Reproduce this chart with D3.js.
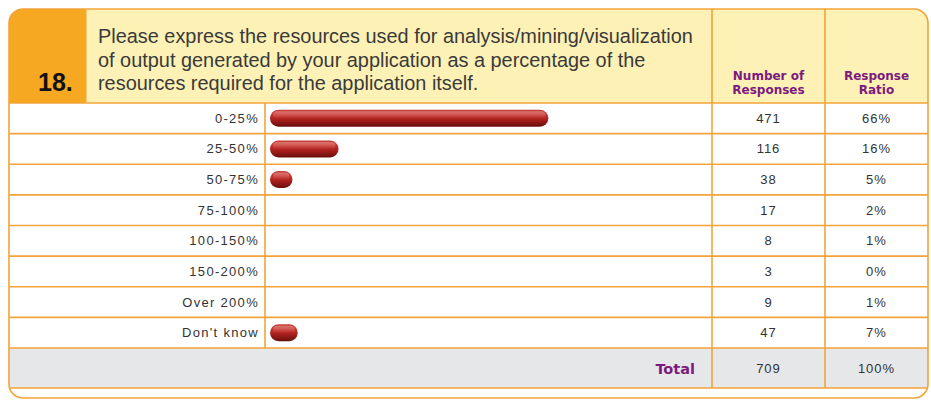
<!DOCTYPE html>
<html>
<head>
<meta charset="utf-8">
<script src="https://cdn.jsdelivr.net/npm/d3@7"></script>
<style>
  html, body { margin: 0; padding: 0; background: #ffffff; }
  svg { display: block; }
</style>
</head>
<body>
<svg id="chart" width="931" height="401"></svg>
<script>
// Survey question 18: resources spent on analysis of output, as a share of the application's own resources
const questionNumber = "18.";
const questionLines = [
  "Please express the resources used for analysis/mining/visualization",
  "of output generated by your application as a percentage of the",
  "resources required for the application itself."
];
const categories = ["0-25%", "25-50%", "50-75%", "75-100%", "100-150%", "150-200%", "Over 200%", "Don't know"];
const counts = [471, 116, 38, 17, 8, 3, 9, 47];
const ratios = [66, 16, 5, 2, 1, 0, 1, 7];
const totalCount = 709;
const totalRatio = 100;
const countHeader = ["Number of", "Responses"];
const ratioHeader = ["Response", "Ratio"];

const svg = d3.select("#chart");
const orange = "#f2a43a";
const purple = "#7d1a7e";

// frame geometry
const L = 9, R = 928, T = 9, B = 398, rad = 14;
const headerBottom = 103;
const colLabelEnd = 265, colCount = 712, colRatio = 825;
const totalTop = 348, totalBottom = 388;

const defs = svg.append("defs");
defs.append("clipPath").attr("id", "frameClip")
  .append("rect").attr("x", L).attr("y", T).attr("width", R - L).attr("height", B - T).attr("rx", rad);

const grad = defs.append("linearGradient").attr("id", "barGrad")
  .attr("x1", 0).attr("y1", 0).attr("x2", 0).attr("y2", 1);
grad.append("stop").attr("offset", "0%").attr("stop-color", "#c4403a");
grad.append("stop").attr("offset", "25%").attr("stop-color", "#cc3530");
grad.append("stop").attr("offset", "60%").attr("stop-color", "#a81f1c");
grad.append("stop").attr("offset", "100%").attr("stop-color", "#650e0d");

const hl = defs.append("linearGradient").attr("id", "barShine")
  .attr("x1", 0).attr("y1", 0).attr("x2", 0).attr("y2", 1);
hl.append("stop").attr("offset", "0%").attr("stop-color", "#ffffff").attr("stop-opacity", 0.3);
hl.append("stop").attr("offset", "100%").attr("stop-color", "#ffffff").attr("stop-opacity", 0);

defs.append("filter").attr("id", "soft").append("feGaussianBlur").attr("stdDeviation", 0.5);

const g = svg.append("g").attr("clip-path", "url(#frameClip)");

// backgrounds
g.append("rect").attr("x", L).attr("y", T).attr("width", R - L).attr("height", B - T).attr("fill", "#ffffff");
g.append("rect").attr("x", L).attr("y", T).attr("width", R - L).attr("height", headerBottom - T).attr("fill", "#fdf1b6");
g.append("rect").attr("x", L).attr("y", T).attr("width", 86 - L).attr("height", headerBottom - T).attr("fill", "#f7a823");
g.append("rect").attr("x", L).attr("y", totalTop).attr("width", R - L).attr("height", totalBottom - totalTop).attr("fill", "#e6e7e8");

// row band scale
const y = d3.scaleBand().domain(categories).range([headerBottom, totalTop]);

// bar length scale
const x = d3.scaleLinear().domain([0, totalCount]).range([270, 689]);

// grid lines
const grid = g.append("g").attr("stroke", orange).attr("stroke-width", 1.6);
categories.forEach(c => {
  grid.append("line").attr("x1", L).attr("x2", R).attr("y1", y(c)).attr("y2", y(c));
});
grid.append("line").attr("x1", L).attr("x2", R).attr("y1", totalTop).attr("y2", totalTop);
grid.append("line").attr("x1", L).attr("x2", R).attr("y1", totalBottom).attr("y2", totalBottom);
grid.append("line").attr("x1", 86).attr("x2", 86).attr("y1", T).attr("y2", headerBottom).attr("stroke-width", 1);
grid.append("line").attr("x1", colLabelEnd).attr("x2", colLabelEnd).attr("y1", headerBottom).attr("y2", totalTop);
grid.append("line").attr("x1", colCount).attr("x2", colCount).attr("y1", T).attr("y2", totalBottom);
grid.append("line").attr("x1", colRatio).attr("x2", colRatio).attr("y1", T).attr("y2", totalBottom);

// outer frame
svg.append("rect").attr("x", L).attr("y", T).attr("width", R - L).attr("height", B - T).attr("rx", rad)
  .attr("fill", "none").attr("stroke", orange).attr("stroke-width", 1.6);

// question header
svg.append("text").attr("x", 38).attr("y", 91).text(questionNumber)
  .attr("font-family", "Liberation Sans, Arial, sans-serif").attr("font-weight", "bold")
  .attr("font-size", 25).attr("fill", "#111");

svg.append("g").selectAll("text").data(questionLines).join("text")
  .attr("x", 98).attr("y", (d, i) => 43 + i * 23.5)
  .attr("font-family", "Liberation Sans, Arial, sans-serif").attr("font-size", 19.9)
  .attr("fill", "#3a3a3a").text(d => d);

const headFont = "DejaVu Sans, Verdana, sans-serif";
[[countHeader, (colCount + colRatio) / 2], [ratioHeader, (colRatio + R) / 2]].forEach(([lines, cx]) => {
  svg.append("g").selectAll("text").data(lines).join("text")
    .attr("x", cx).attr("y", (d, i) => 80 + i * 13.5)
    .attr("text-anchor", "middle").attr("font-family", headFont).attr("font-weight", "bold")
    .attr("font-size", 12).attr("fill", purple).text(d => d);
});

// body rows
const bodyFont = "Liberation Sans, Arial, sans-serif";
const rows = svg.append("g");
const mid = c => y(c) + y.bandwidth() / 2;

rows.selectAll("text.cat").data(categories).join("text").attr("class", "cat")
  .attr("x", 259).attr("y", c => mid(c) + 4.5).attr("text-anchor", "end")
  .attr("font-family", bodyFont).attr("font-size", 13).attr("letter-spacing", 1.3)
  .attr("fill", "#333").text(c => c);

rows.selectAll("text.cnt").data(counts).join("text").attr("class", "cnt")
  .attr("x", (colCount + colRatio) / 2).attr("y", (d, i) => mid(categories[i]) + 4.5)
  .attr("text-anchor", "middle").attr("font-family", bodyFont).attr("font-size", 13)
  .attr("letter-spacing", 1).attr("fill", "#333").text(d => d);

rows.selectAll("text.rat").data(ratios).join("text").attr("class", "rat")
  .attr("x", (colRatio + R) / 2).attr("y", (d, i) => mid(categories[i]) + 4.5)
  .attr("text-anchor", "middle").attr("font-family", bodyFont).attr("font-size", 13)
  .attr("letter-spacing", 1).attr("fill", "#333").text(d => d + "%");

// pill bars (the survey tool omits bars under 5%)
const barH = 17;
const barData = counts.map((v, i) => ({ cat: categories[i], v, r: ratios[i] })).filter(d => d.r >= 5);
const bars = svg.append("g").attr("filter", "url(#soft)");
bars.selectAll("rect.bar").data(barData).join("rect").attr("class", "bar")
  .attr("x", x(0)).attr("y", d => mid(d.cat) - barH / 2)
  .attr("width", d => x(d.v) - x(0)).attr("height", barH)
  .attr("rx", barH / 2).attr("fill", "url(#barGrad)");
bars.selectAll("rect.shine").data(barData).join("rect").attr("class", "shine")
  .attr("x", x(0) + 3).attr("y", d => mid(d.cat) - barH / 2 + 1.5)
  .attr("width", d => Math.max(0, x(d.v) - x(0) - 6)).attr("height", barH / 2 - 1)
  .attr("rx", barH / 4).attr("fill", "url(#barShine)");

// total row
svg.append("text").attr("x", 695).attr("y", 374).attr("text-anchor", "end")
  .attr("font-family", headFont).attr("font-weight", "bold").attr("font-size", 14.5)
  .attr("fill", purple).text("Total");
svg.append("text").attr("x", (colCount + colRatio) / 2).attr("y", 373).attr("text-anchor", "middle")
  .attr("font-family", bodyFont).attr("font-size", 13).attr("letter-spacing", 1)
  .attr("fill", "#333").text(totalCount);
svg.append("text").attr("x", (colRatio + R) / 2).attr("y", 373).attr("text-anchor", "middle")
  .attr("font-family", bodyFont).attr("font-size", 13).attr("letter-spacing", 1)
  .attr("fill", "#333").text(totalRatio + "%");
</script>
</body>
</html>
